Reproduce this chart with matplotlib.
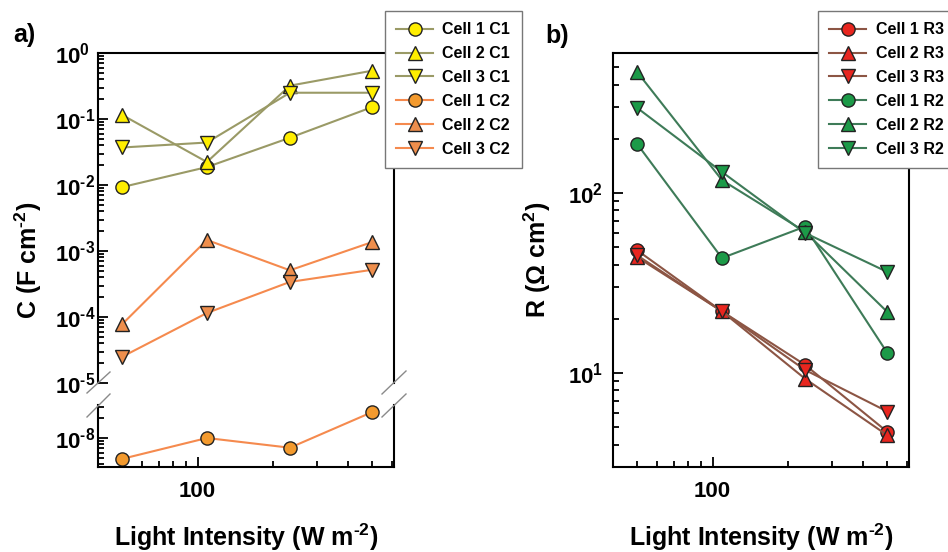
import numpy as np
import matplotlib
matplotlib.use('Agg')
import matplotlib.pyplot as plt
from matplotlib.ticker import FixedLocator, FixedFormatter, LogLocator, NullFormatter
from matplotlib.lines import Line2D

plt.rcParams['font.family'] = 'Liberation Sans'
plt.rcParams['font.weight'] = 'bold'
plt.rcParams['mathtext.fontset'] = 'custom'
plt.rcParams['mathtext.rm'] = 'Liberation Sans:bold'
plt.rcParams['mathtext.bf'] = 'Liberation Sans:bold'
plt.rcParams['mathtext.it'] = 'Liberation Sans:bold'
plt.rcParams['mathtext.sf'] = 'Liberation Sans'
plt.rcParams['mathtext.default'] = 'regular'

HY = '\u2010'  # short hyphen for exponents

# light intensity, W m^-2
intensity = [50, 109, 234, 500]

# capacitances, F cm^-2
cell1_c1 = [0.0093, 0.0187, 0.052, 0.152]
cell2_c1 = [0.115, 0.0223, 0.32, 0.54]
cell3_c1 = [0.037, 0.044, 0.25, 0.25]
cell1_c2 = [4.8e-9, 1.0e-8, 7.1e-9, 2.5e-8]
cell2_c2 = [7.8e-5, 1.47e-3, 5.1e-4, 1.37e-3]
cell3_c2 = [2.5e-5, 1.15e-4, 3.4e-4, 5.2e-4]

# resistances, Ohm cm^2
cell1_r3 = [48, 22, 11.1, 4.7]
cell2_r3 = [44, 22, 9.3, 4.5]
cell3_r3 = [45, 22, 10.4, 6.1]
cell1_r2 = [187, 43.5, 65, 12.9]
cell2_r2 = [470, 118, 61, 21.8]
cell3_r2 = [297, 131, 60, 36.4]

olive = '#9A9A66'
orange_ln = '#F58A4E'
brown = '#8C5544'
green_ln = '#3E7B58'
yellow = '#FFEE00'
orange_c = '#F39A2E'
orange_t = '#EE8E4C'
red = '#E8261F'
green = '#1C9A48'

W, H = 948, 552
fig = plt.figure(figsize=(W / 100, H / 100), dpi=100)

def px(x0, y0, x1, y1):
    # pixel box -> figure fraction rect
    return [x0 / W, 1 - y1 / H, (x1 - x0) / W, (y1 - y0) / H]

ax_top = fig.add_axes(px(98, 53, 394, 383))
ax_bot = fig.add_axes(px(98, 405, 394, 467))
ax_r = fig.add_axes(px(613, 53, 909, 467))

mk = dict(markersize=9.5, markeredgecolor='#222222', markeredgewidth=1.0, lw=1.5, clip_on=False)

def series(ax, y, marker, fill, line, label):
    return ax.plot(intensity, y, marker=marker, color=line, markerfacecolor=fill, label=label, **mk)[0]

# broken C axis: C2 of cell 1 sits in the lower segment
h = [
    series(ax_top, cell1_c1, 'o', yellow, olive, 'Cell 1 C1'),
    series(ax_top, cell2_c1, '^', yellow, olive, 'Cell 2 C1'),
    series(ax_top, cell3_c1, 'v', yellow, olive, 'Cell 3 C1'),
    series(ax_bot, cell1_c2, 'o', orange_c, orange_ln, 'Cell 1 C2'),
    series(ax_top, cell2_c2, '^', orange_t, orange_ln, 'Cell 2 C2'),
    series(ax_top, cell3_c2, 'v', orange_t, orange_ln, 'Cell 3 C2'),
]

hr = [
    series(ax_r, cell1_r3, 'o', red, brown, 'Cell 1 R3'),
    series(ax_r, cell2_r3, '^', red, brown, 'Cell 2 R3'),
    series(ax_r, cell3_r3, 'v', red, brown, 'Cell 3 R3'),
    series(ax_r, cell1_r2, 'o', green, green_ln, 'Cell 1 R2'),
    series(ax_r, cell2_r2, '^', green, green_ln, 'Cell 2 R2'),
    series(ax_r, cell3_r2, 'v', green, green_ln, 'Cell 3 R2'),
]

ax_top.set_ylim(1e-5, 1)
ax_bot.set_ylim(3.6e-9, 3.2e-8)
ax_r.set_ylim(3, 600)

for ax in (ax_top, ax_bot, ax_r):
    ax.set_xscale('log')
    ax.set_yscale('log')
    ax.set_xlim(40, 610)
    for s in ax.spines.values():
        s.set_linewidth(1.5)
    ax.tick_params(which='both', direction='in', width=1.3, top=False, right=False,
                   labelsize=16)
    ax.tick_params(which='major', length=7)
    ax.tick_params(which='minor', length=4)
    ax.xaxis.set_major_locator(FixedLocator([100]))
    ax.xaxis.set_major_formatter(FixedFormatter(['100']))
    ax.xaxis.set_minor_locator(LogLocator(base=10, subs=np.arange(2, 10)))
    ax.xaxis.set_minor_formatter(NullFormatter())
    ax.yaxis.set_minor_locator(LogLocator(base=10, subs=np.arange(2, 10), numticks=20))
    ax.yaxis.set_minor_formatter(NullFormatter())
    ax.tick_params(axis='x', pad=10)

ax_top.spines['bottom'].set_visible(False)
ax_top.tick_params(axis='x', which='both', bottom=False, labelbottom=False)
ax_bot.spines['top'].set_visible(False)

def exp_label(n):
    return '$10^{%s}$' % str(n).replace('-', HY)

top_ticks = [1e-5, 1e-4, 1e-3, 1e-2, 1e-1, 1]
ax_top.yaxis.set_major_locator(FixedLocator(top_ticks))
ax_top.yaxis.set_major_formatter(FixedFormatter([exp_label(int(round(np.log10(t)))) for t in top_ticks]))
ax_bot.yaxis.set_major_locator(FixedLocator([1e-8]))
ax_bot.yaxis.set_major_formatter(FixedFormatter([exp_label(-8)]))
ax_r.yaxis.set_major_locator(FixedLocator([10, 100]))
ax_r.yaxis.set_major_formatter(FixedFormatter([exp_label(1), exp_label(2)]))

# Origin-style left-aligned y tick labels
for ax, left in ((ax_top, 55), (ax_bot, 55), (ax_r, 568)):
    spine_x = ax.get_position().x0 * W
    ax.tick_params(axis='y', pad=(spine_x - left) * 0.72)
    for lab in ax.get_yticklabels():
        lab.set_horizontalalignment('left')

# axis break marks
def brk(x0, y0, x1, y1):
    fig.add_artist(Line2D([x0 / W, x1 / W], [1 - y0 / H, 1 - y1 / H], color='#8A8A8A', lw=1.0))

brk(87, 393, 110, 372)
brk(87, 417, 110, 394)
brk(382, 394, 406, 371)
brk(382, 417, 406, 394)

leg_kw = dict(loc='upper left', fontsize=11.5, frameon=True, fancybox=False, framealpha=1,
              edgecolor='#777777', handlelength=2.3, handletextpad=0.6, labelspacing=0.56,
              borderpad=0.7, borderaxespad=0)
lg1 = fig.legend(handles=h, bbox_to_anchor=(385 / W, 1 - 11 / H), **leg_kw)
lg2 = fig.legend(handles=hr, bbox_to_anchor=(818 / W, 1 - 11 / H), **leg_kw)
for lg in (lg1, lg2):
    lg.get_frame().set_linewidth(1.0)

fig.text(13 / W, 1 - 35 / H, 'a)', fontsize=18, va='center', ha='left')
fig.text(545 / W, 1 - 36 / H, 'b)', fontsize=18, va='center', ha='left')

fig.text(28 / W, 1 - 260 / H, 'C (F cm$^{' + HY + '2}$)', fontsize=18, rotation=90,
         va='center', ha='center')
fig.text(537 / W, 1 - 260 / H, r'R ($\mathsf{\Omega}$ cm$^{2}$)', fontsize=18, rotation=90,
         va='center', ha='center')
xlab = 'Light Intensity (W m$^{' + HY + '2}$)'
fig.text(246 / W, 1 - 537 / H, xlab, fontsize=18, va='center', ha='center')
fig.text(761 / W, 1 - 537 / H, xlab, fontsize=18, va='center', ha='center')

fig.savefig('out.png', dpi=100)
